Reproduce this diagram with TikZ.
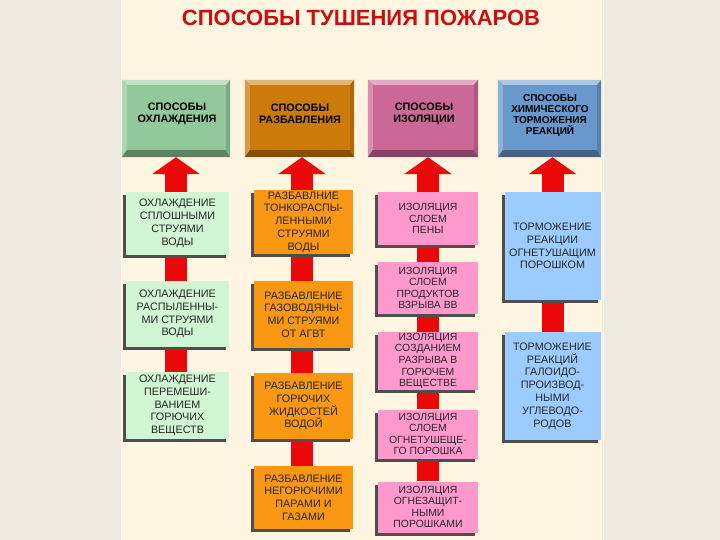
\documentclass[tikz,border=0pt]{standalone}
\usepackage{fontspec}
\setmainfont{Liberation Sans}
\usetikzlibrary{calc,shadows,arrows.meta,backgrounds}
\pgfdeclarelayer{bottom}
\pgfdeclarelayer{background}
\pgfsetlayers{bottom,background,main}
\definecolor{outerbg}{RGB}{238,234,224}
\definecolor{panelbg}{RGB}{255,245,225}
\definecolor{titlered}{RGB}{200,16,16}
\definecolor{arrred}{RGB}{236,8,8}
\definecolor{shgray}{RGB}{78,78,78}
\definecolor{hgreen}{RGB}{146,200,156}
\definecolor{horange}{RGB}{204,122,10}
\definecolor{hpink}{RGB}{204,104,152}
\definecolor{hblue}{RGB}{104,152,204}
\definecolor{cgreen}{RGB}{208,246,212}
\definecolor{corange}{RGB}{250,152,20}
\definecolor{cpink}{RGB}{255,152,204}
\definecolor{cblue}{RGB}{156,204,255}
\newcommand\hdrbevel[2]{%
  \fill[#2!55!white] (#1.north west) -- (#1.north east) -- ($(#1.north east)+(-4,5)$) -- ($(#1.north west)+(5,5)$) -- cycle;
  \fill[#2!75!white] (#1.north west) -- ($(#1.north west)+(5,5)$) -- ($(#1.south west)+(5,-7)$) -- (#1.south west) -- cycle;
  \fill[#2!65!black] (#1.south west) -- ($(#1.south west)+(5,-7)$) -- ($(#1.south east)+(-4,-7)$) -- (#1.south east) -- cycle;
  \fill[#2!85!black] (#1.north east) -- (#1.south east) -- ($(#1.south east)+(-4,-7)$) -- ($(#1.north east)+(-4,5)$) -- cycle;
}
\begin{document}
\begin{tikzpicture}[x=1pt,y=-1pt,
  hdr/.style={minimum width=#1, inner sep=0pt, align=center, font=\fontsize{10.8}{11.5}\selectfont\bfseries, text=black},
  cbox/.style={inner sep=0pt, align=center, font=\fontsize{10.8}{12.8}\selectfont, text=black!85,
     drop shadow={shadow xshift=-3pt, shadow yshift=-3pt, opacity=1, fill=shgray}},
  pbox/.style={cbox, fill=cpink, minimum width=100pt, font=\fontsize{10.4}{11.6}\selectfont},
  shaft/.style={line width=22pt, arrred},
  uparrow/.style={line width=22pt, arrred, -{Triangle[width=47pt,length=17pt]}}
]
\useasboundingbox (0,0) rectangle (720,540);
\begin{pgfonlayer}{bottom}
\fill[outerbg] (0,0) rectangle (720,540);
\fill[panelbg] (122,0) rectangle (602,540);
\draw[white!60!panelbg, line width=1pt] (121,0) -- (121,540) (603,0) -- (603,540);
\end{pgfonlayer}

\node[font=\fontsize{22}{24}\selectfont\bfseries, text=titlered] (title) at (361,18) {СПОСОБЫ ТУШЕНИЯ ПОЖАРОВ};

% headers
\node[hdr=108pt, minimum height=77pt, fill=hgreen] (h1) at (176,118.5) {};
\node[hdr=109pt, minimum height=77pt, fill=horange] (h2) at (299.5,118.5) {};
\node[hdr=110pt, minimum height=77pt, fill=hpink] (h3) at (423,118.5) {};
\node[hdr=103pt, minimum height=77pt, fill=hblue] (h4) at (549.5,118.5) {};
\hdrbevel{h1}{hgreen}
\hdrbevel{h2}{horange}
\hdrbevel{h3}{hpink}
\hdrbevel{h4}{hblue}
\node[hdr=100pt] (t1) at (177,114) {СПОСОБЫ\\ОХЛАЖДЕНИЯ};
\node[hdr=100pt] (t2) at (300,114) {СПОСОБЫ\\РАЗБАВЛЕНИЯ};
\node[hdr=100pt] (t3) at (424,114) {СПОСОБЫ\\ИЗОЛЯЦИИ};
\node[hdr=100pt, font=\fontsize{10}{11}\selectfont\bfseries] (t4) at (550,116) {СПОСОБЫ\\ХИМИЧЕСКОГО\\ТОРМОЖЕНИЯ\\РЕАКЦИЙ};

% column 1
\node[cbox, fill=cgreen, minimum width=103pt, minimum height=63pt] (c11) at (177.5,223.5) {ОХЛАЖДЕНИЕ\\СПЛОШНЫМИ\\СТРУЯМИ\\ВОДЫ};
\node[cbox, fill=cgreen, minimum width=103pt, minimum height=66pt] (c12) at (177.5,314) {ОХЛАЖДЕНИЕ\\РАСПЫЛЕННЫ-\\МИ СТРУЯМИ\\ВОДЫ};
\node[cbox, fill=cgreen, minimum width=103pt, minimum height=67pt] (c13) at (177.5,405.5) {ОХЛАЖДЕНИЕ\\ПЕРЕМЕШИ-\\ВАНИЕМ\\ГОРЮЧИХ\\ВЕЩЕСТВ};
% column 2
\node[cbox, fill=corange, minimum width=99pt, minimum height=64pt] (c21) at (303.5,222) {РАЗБАВЛНИЕ\\ТОНКОРАСПЫ-\\ЛЕННЫМИ\\СТРУЯМИ\\ВОДЫ};
\node[cbox, fill=corange, minimum width=99pt, minimum height=67pt] (c22) at (303.5,314.5) {РАЗБАВЛЕНИЕ\\ГАЗОВОДЯНЫ-\\МИ СТРУЯМИ\\ОТ АГВТ};
\node[cbox, fill=corange, minimum width=99pt, minimum height=66pt] (c23) at (303.5,406) {РАЗБАВЛЕНИЕ\\ГОРЮЧИХ\\ЖИДКОСТЕЙ\\ВОДОЙ};
\node[cbox, fill=corange, minimum width=99pt, minimum height=63pt] (c24) at (303.5,497.5) {РАЗБАВЛЕНИЕ\\НЕГОРЮЧИМИ\\ПАРАМИ И\\ГАЗАМИ};
% column 3
\node[pbox, minimum height=53pt] (c31) at (428,218.5) {ИЗОЛЯЦИЯ\\СЛОЕМ\\ПЕНЫ};
\node[pbox, minimum height=52pt] (c32) at (428,288) {ИЗОЛЯЦИЯ\\СЛОЕМ\\ПРОДУКТОВ\\ВЗРЫВА ВВ};
\node[pbox, minimum height=58pt] (c33) at (428,361) {ИЗОЛЯЦИЯ\\СОЗДАНИЕМ\\РАЗРЫВА В\\ГОРЮЧЕМ\\ВЕЩЕСТВЕ};
\node[pbox, minimum height=49pt] (c34) at (428,434) {ИЗОЛЯЦИЯ\\СЛОЕМ\\ОГНЕТУШЕЩЕ-\\ГО ПОРОШКА};
\node[pbox, minimum height=51pt] (c35) at (428,507) {ИЗОЛЯЦИЯ\\ОГНЕЗАЩИТ-\\НЫМИ\\ПОРОШКАМИ};
% column 4
\node[cbox, fill=cblue, minimum width=96pt, minimum height=108pt] (c41) at (552.5,246) {ТОРМОЖЕНИЕ\\РЕАКЦИИ\\ОГНЕТУШАЩИМ\\ПОРОШКОМ};
\node[cbox, fill=cblue, minimum width=96pt, minimum height=108pt] (c42) at (552.5,386) {ТОРМОЖЕНИЕ\\РЕАКЦИЙ\\ГАЛОИДО-\\ПРОИЗВОД-\\НЫМИ\\УГЛЕВОДО-\\РОДОВ};

\begin{pgfonlayer}{background}
\draw[uparrow] (c11.north -| h1.south) -- (h1.south);
\draw[uparrow] (c21.north -| 302,0) -- (302,0 |- h2.south);
\draw[uparrow] (c31.north) -- (c31.north |- h3.south);
\draw[uparrow] (c41.north) -- (c41.north |- h4.south);
\draw[shaft] (c11.south -| h1.south) -- (c12.north -| h1.south);
\draw[shaft] (c12.south -| h1.south) -- (c13.north -| h1.south);
\draw[shaft] (c21.south -| 302,0) -- (c22.north -| 302,0);
\draw[shaft] (c22.south -| 302,0) -- (c23.north -| 302,0);
\draw[shaft] (c23.south -| 302,0) -- (c24.north -| 302,0);
\draw[shaft] (c31.south) -- (c32.north);
\draw[shaft] (c32.south) -- (c33.north);
\draw[shaft] (c33.south) -- (c34.north);
\draw[shaft] (c34.south) -- (c35.north);
\draw[shaft] (c41.south) -- (c42.north);
\end{pgfonlayer}
\end{tikzpicture}
\end{document}
